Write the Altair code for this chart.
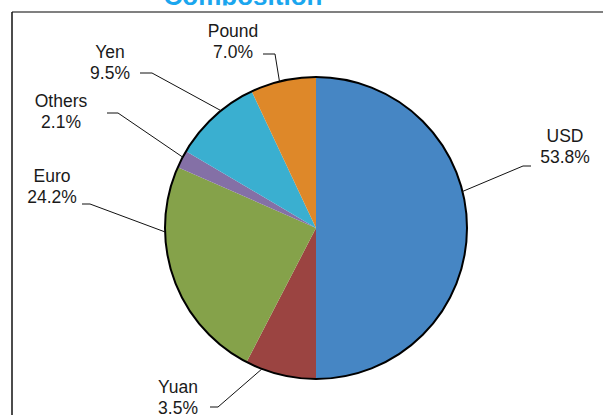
import altair as alt
import pandas as pd
import numpy as np

# ---- data ----
currencies = ["USD", "Yuan", "Euro", "Others", "Yen", "Pound"]
slice_shares = [50.0, 7.6, 24.0, 1.9, 9.5, 7.0]          # drawn wedge sizes
share_labels = ["53.8%", "3.5%", "24.2%", "2.1%", "9.5%", "7.0%"]  # printed labels
colors = ["#4686C4", "#9B4441", "#85A24A", "#8470A6", "#3AAFD0", "#DE8829"]
title_text = "Composition"

# ---- layout ----
W, H = 603, 415
CX, CY, R = 316, 228, 151
label_x = [565, 178, 52, 61, 110, 233]
label_y = [142, 393, 182, 107, 58, 37]
LINE_H = 21
tick_start = [(531, 166), (210, 407), (82, 204), (107, 113), (140, 73), (263, 54)]
tick_end = [(523, 166), (218, 407), (90, 204), (118, 113), (152, 73), (275, 54)]
edge_angle = [76, 201, 268.5, 298, 321, 346]
FONT = "Liberation Sans"
FS = 17.5

pie_df = pd.DataFrame({
    "currency": currencies,
    "share": slice_shares,
    "idx": list(range(len(currencies))),
})

lab_df = pd.DataFrame({
    "currency": currencies,
    "pct": share_labels,
    "lx": label_x,
    "ly": label_y,
    "ly2": [v + LINE_H for v in label_y],
})

rows = []
for c, s, e, a in zip(currencies, tick_start, tick_end, edge_angle):
    rad = np.deg2rad(a)
    ex = CX + R * np.sin(rad)
    ey = CY - R * np.cos(rad)
    rows.append({"currency": c, "step": 0, "px": s[0], "py": s[1]})
    rows.append({"currency": c, "step": 1, "px": e[0], "py": e[1]})
    rows.append({"currency": c, "step": 2, "px": float(ex), "py": float(ey)})
line_df = pd.DataFrame(rows)

X = lambda f: alt.X(f, scale=None, axis=None)
Y = lambda f: alt.Y(f, scale=None, axis=None)

pie = alt.Chart(pie_df).mark_arc(outerRadius=R).encode(
    theta=alt.Theta("share:Q", stack=True),
    color=alt.Color("currency:N", scale=alt.Scale(domain=currencies, range=colors), legend=None),
    order=alt.Order("idx:Q"),
    x=alt.value(CX),
    y=alt.value(CY),
)

outline = alt.Chart(pd.DataFrame({"v": [2 * np.pi]})).mark_arc(
    outerRadius=R, fillOpacity=0, stroke="black", strokeWidth=2
).encode(
    theta=alt.Theta("v:Q", scale=None),
    x=alt.value(CX),
    y=alt.value(CY),
)

leaders = alt.Chart(line_df).mark_line(color="#111111", strokeWidth=1).encode(
    x=X("px:Q"), y=Y("py:Q"), detail="currency:N", order="step:Q"
)

names = alt.Chart(lab_df).mark_text(
    font=FONT, fontSize=FS, color="#1a1a1a", align="center", baseline="alphabetic"
).encode(x=X("lx:Q"), y=Y("ly:Q"), text="currency:N")

pcts = alt.Chart(lab_df).mark_text(
    font=FONT, fontSize=FS, color="#1a1a1a", align="center", baseline="alphabetic"
).encode(x=X("lx:Q"), y=Y("ly2:Q"), text="pct:N")

title = alt.Chart(pd.DataFrame({"t": [title_text]})).mark_text(
    font=FONT, fontSize=26, fontWeight="bold", color="#1BA6EE", align="center", baseline="alphabetic"
).encode(x=alt.value(243), y=alt.value(4.5), text="t:N")

# white band hiding the title's descenders (as cropped in the reference)
mask = alt.Chart(pd.DataFrame({"a": [0]})).mark_rule(color="white", strokeWidth=6).encode(
    x=alt.value(140), x2=alt.value(350), y=alt.value(8.5)
)

top_rule = alt.Chart(pd.DataFrame({"a": [0]})).mark_rule(color="#808080", strokeWidth=2).encode(
    x=alt.value(12), x2=alt.value(W), y=alt.value(12)
)
left_rule = alt.Chart(pd.DataFrame({"a": [0]})).mark_rule(color="#111111", strokeWidth=1.5).encode(
    x=alt.value(12), y=alt.value(12), y2=alt.value(H)
)

chart = alt.layer(
    title, mask, top_rule, left_rule, pie, outline, leaders, names, pcts
).resolve_scale(theta="independent").properties(
    width=W, height=H, autosize=alt.AutoSizeParams(type="none"), padding=0
).configure_view(strokeOpacity=0)

chart.save("out.html", embed_options={"renderer": "svg", "actions": False})
